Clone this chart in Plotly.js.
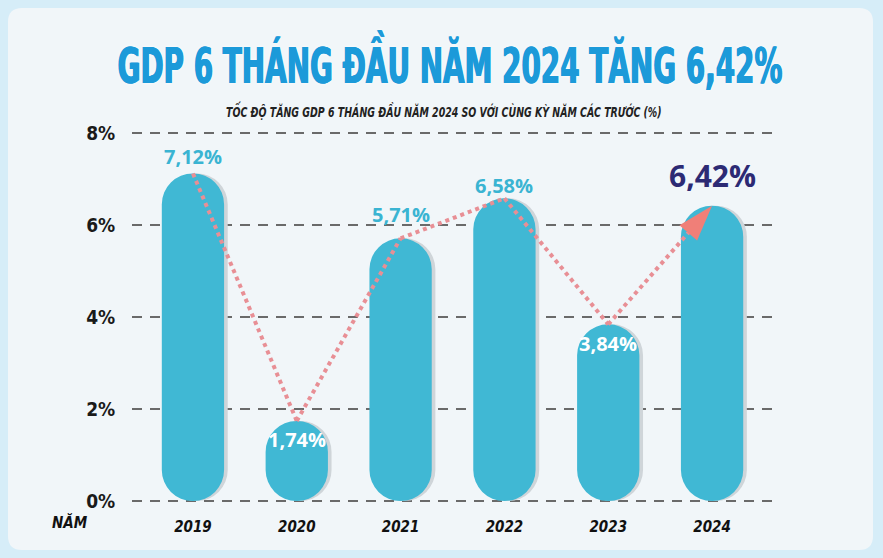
<!DOCTYPE html>
<html>
<head>
<meta charset="utf-8">
<script src="https://cdn.plot.ly/plotly-3.0.1.min.js"></script>
<style>
html,body{margin:0;padding:0;background:#d6edf8;}
#chart{width:883px;height:558px;}
</style>
</head>
<body>
<div id="chart"></div>
<script>
// ---- data ----
const years = ['2019', '2020', '2021', '2022', '2023', '2024'];
const growth = [7.12, 1.74, 5.71, 6.58, 3.84, 6.42];
const valueLabels = ['7,12%', '1,74%', '5,71%', '6,58%', '3,84%', '6,42%'];
const yTickVals = [0, 2, 4, 6, 8];
const yTickText = ['0%', '2%', '4%', '6%', '8%'];
const titleText = 'GDP 6 THÁNG ĐẦU NĂM 2024 TĂNG 6,42%';
const subtitleText = 'TỐC ĐỘ TĂNG GDP 6 THÁNG ĐẦU NĂM 2024 SO VỚI CÙNG KỲ NĂM CÁC TRƯỚC (%)';
const xAxisLabel = 'NĂM';

// ---- style ----
const CONDENSED = '"DejaVu Sans Condensed", "Liberation Sans", sans-serif';
const barColor = '#40b8d4';
const shadowColor = '#cfd5d9';
const titleColor = '#1c9ad9';
const barW = 0.6;
const lastIdx = years.length - 1;
// vertical offset (px) of each value label from its bar top (style, not data)
const labelLift = [17, -19, 24, 13, -19, 30];

function pillTrace(color, shift) {
  return {
    type: 'bar', x: years, base: growth.map(() => 0), y: growth,
    width: barW, offset: -barW / 2 + shift,
    marker: {color: color, cornerradius: '50%', line: {width: 0}},
    hoverinfo: 'skip', showlegend: false
  };
}

const trendLine = {
  type: 'scatter', mode: 'lines+markers', x: years, y: growth,
  line: {color: '#e88f95', width: 4, dash: '4px,4px'},
  marker: {
    symbol: 'arrow', angleref: 'previous',
    size: growth.map((v, i) => i === lastIdx ? 38 : 0),
    color: '#f07f78', opacity: 1, line: {width: 0}
  },
  hoverinfo: 'skip', showlegend: false
};

const data = [pillTrace(shadowColor, 0.035), pillTrace(barColor, 0), trendLine];

// value labels
const annotations = growth.map((v, i) => {
  const inside = labelLift[i] < 0;
  const highlight = i === lastIdx;
  return {
    x: i, y: v, xref: 'x', yref: 'y', text: valueLabels[i], showarrow: false,
    yanchor: 'middle', yshift: labelLift[i],
    font: {
      family: '"Open Sans", "DejaVu Sans", sans-serif', weight: 700,
      size: highlight ? 30 : 20,
      color: inside ? '#ffffff' : (highlight ? '#2c2a74' : '#3ab4d2')
    }
  };
});

// plot geometry: value 0 at y=501px, 8 at y=133px (46 px per unit),
// range padded by 3px so the edge gridlines are kept
const pxPerUnit = 46;
const pad = 3 / pxPerUnit;
const plotTop = 130, plotH = 374, plotLeft = 132, plotW = 646;
function px2x(p) { return (p - plotLeft) / plotW; }
function py2y(p) { return (plotTop + plotH - p) / plotH; }

annotations.push({
  xref: 'paper', yref: 'paper', x: px2x(444), y: py2y(110), xanchor: 'center', yanchor: 'middle',
  text: subtitleText, showarrow: false,
  font: {family: CONDENSED, size: 14, weight: 700, style: 'italic', color: '#222222'}
});
annotations.push({
  xref: 'paper', yref: 'paper', x: px2x(70), y: py2y(522), xanchor: 'center', yanchor: 'middle',
  text: xAxisLabel, showarrow: false,
  font: {family: CONDENSED, size: 15, weight: 700, style: 'italic', color: '#111111'}
});

const L = 8, R = 873, T = 8, B = 550, r = 14;
const cardPath =
  'M' + px2x(L + r) + ',' + py2y(T) +
  ' L' + px2x(R - r) + ',' + py2y(T) +
  ' Q' + px2x(R) + ',' + py2y(T) + ' ' + px2x(R) + ',' + py2y(T + r) +
  ' L' + px2x(R) + ',' + py2y(B - r) +
  ' Q' + px2x(R) + ',' + py2y(B) + ' ' + px2x(R - r) + ',' + py2y(B) +
  ' L' + px2x(L + r) + ',' + py2y(B) +
  ' Q' + px2x(L) + ',' + py2y(B) + ' ' + px2x(L) + ',' + py2y(B - r) +
  ' L' + px2x(L) + ',' + py2y(T + r) +
  ' Q' + px2x(L) + ',' + py2y(T) + ' ' + px2x(L + r) + ',' + py2y(T) + ' Z';

const layout = {
  width: 883, height: 558,
  margin: {l: plotLeft, r: 883 - plotLeft - plotW, t: plotTop, b: 558 - plotTop - plotH, pad: 0},
  paper_bgcolor: '#d6edf8',
  plot_bgcolor: 'rgba(0,0,0,0)',
  barmode: 'overlay',
  title: {
    text: titleText, xref: 'container', yref: 'container', x: 450 / 883, y: 1 - 66 / 558,
    xanchor: 'center', yanchor: 'middle',
    font: {family: CONDENSED, size: 50, weight: 700, color: titleColor,
           shadow: '0.7px 0 0 ' + titleColor + ', -0.7px 0 0 ' + titleColor + ', 0 0 4px #ffffff'}
  },
  xaxis: {
    type: 'category', range: [-0.587, 5.635], fixedrange: true,
    showgrid: false, zeroline: false, showline: false,
    ticks: 'outside', ticklen: 9, tickcolor: 'rgba(0,0,0,0)',
    tickfont: {family: CONDENSED, size: 15, weight: 700, style: 'italic', color: '#111111'}
  },
  yaxis: {
    range: [-pad, 8 + pad], tickvals: yTickVals, ticktext: yTickText, fixedrange: true,
    showgrid: true, gridcolor: '#6a6a6a', gridwidth: 2, griddash: '10px,8px',
    zeroline: false, showline: false,
    ticks: 'outside', ticklen: 12, tickcolor: 'rgba(0,0,0,0)',
    tickfont: {family: CONDENSED, size: 19, weight: 700, color: '#1a1a1a'}
  },
  shapes: [{
    type: 'path', xref: 'paper', yref: 'paper', path: cardPath, layer: 'below',
    fillcolor: '#f1f6f9', line: {width: 0}
  }],
  annotations: annotations
};

// squeeze wide headline texts horizontally to the condensed look of the original
function condense(el, targetWidth) {
  if (!el) return;
  const bb = el.getBBox();
  if (!bb.width) return;
  const s = Math.min(1, targetWidth / bb.width);
  const cx = bb.x + bb.width / 2;
  const prev = el.getAttribute('transform') || '';
  el.setAttribute('transform', prev + ' translate(' + cx + ',0) scale(' + s + ',1) translate(' + (-cx) + ',0)');
}

Plotly.newPlot('chart', data, layout, {displayModeBar: false}).then(gd => {
  condense(gd.querySelector('.g-gtitle text'), 665);
  gd.querySelectorAll('.annotation-text-g text').forEach(t => {
    if (t.textContent === subtitleText) condense(t, 436);
  });
});
</script>
</body>
</html>
